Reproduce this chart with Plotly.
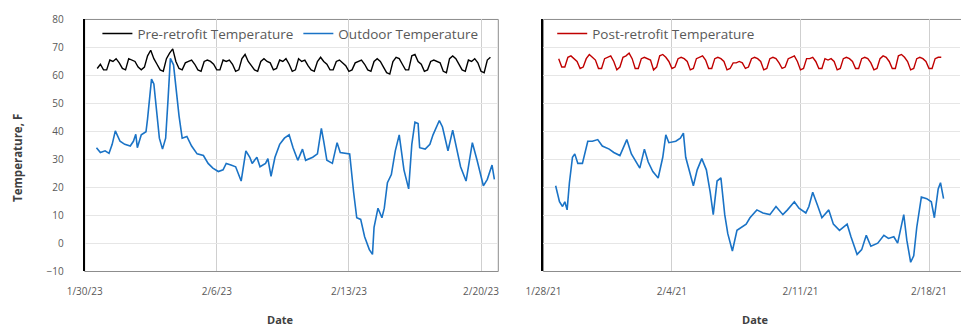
import plotly.graph_objects as go
import pandas as pd

# ---------------- DATA ----------------
# Pre-retrofit period (2023): indoor temperature, every 4 hours starting 1/30/23 16:00
pre_indoor_start = "2023-01-30 16:00"
pre_indoor = [
    62.5, 64,
    62, 62, 65.5, 65, 66, 64.5,
    62.5, 62, 66, 65.5, 65, 63,
    62, 63, 67, 69, 66, 64,
    62, 61.5, 66, 68, 69.5, 65,
    62.5, 62, 64.5, 65, 65.5, 64,
    62, 61.5, 65, 65.5, 65, 64,
    62, 62, 65.5, 65, 65.5, 64,
    61.5, 62, 66, 67.5, 65, 63.5,
    62, 61.5, 65, 66, 65, 64.5,
    62, 62.5, 65.5, 65, 66, 64,
    61.5, 62, 66, 65, 65.5, 63.5,
    62, 61.5, 65, 66.5, 65, 64,
    62, 62, 65, 65.5, 64.5, 63.5,
    61.5, 62, 64.5, 65, 65.5, 64,
    62, 61.5, 65, 66, 65, 63,
    61, 60.5, 65, 66.5, 66, 64,
    62, 62, 67, 67.5, 65, 64,
    61.5, 62, 65, 65.5, 65, 64.5,
    61.5, 61, 66, 67, 66, 64,
    62, 61.5, 65.5, 65, 66, 64.5,
    61.5, 61, 65.5, 66.5,
]

# Pre-retrofit outdoor temperature: hours since 1/30/23 00:00 and values
pre_out_hours = [
    15, 20, 26, 31, 35, 39, 45, 51, 58, 62, 65, 67, 72, 78, 80, 85, 88, 92, 95, 99,
    103, 106, 109, 113, 116, 120, 124, 130, 136, 143, 151, 157, 163, 170, 176, 180,
    186, 192, 199, 205, 210, 213, 219, 223, 230, 233, 237, 242, 248, 254, 260, 265,
    271, 277, 281, 290, 296, 301, 304, 308, 315, 321, 325, 337, 342, 346, 351, 356,
    362, 366, 368, 373, 378, 381, 385, 390, 395, 400, 406, 412, 416, 420, 424, 426,
    433, 439, 443, 447, 451, 455, 462, 468, 474, 478, 485, 493, 499, 507, 512, 518, 521,
]
pre_out = [
    34.2, 32.5, 33.1, 32.2, 35.4, 40.2, 36.5, 35.4, 34.8, 36.5, 39.0, 34.2, 38.8, 39.9, 44.5, 58.7, 57.0, 44.5, 37.6, 33.7,
    37.6, 51.3, 66.1, 63.8, 55.9, 45.6, 37.6, 38.2, 34.8, 32.0, 31.4, 28.6, 26.9, 25.7, 26.3, 28.6,
    28.0, 27.4, 22.3, 33.1, 30.8, 28.6, 30.8, 27.4, 28.6, 30.3, 24.0, 30.8, 35.4, 37.6, 38.8, 34.2,
    29.7, 33.7, 29.7, 30.8, 32.0, 41.1, 36.5, 29.7, 28.6, 36.0, 32.5, 32.0, 18.3, 9.2, 8.6, 2.4,
    -2.2, -3.9, 5.8, 12.6, 9.2, 12.6, 21.7, 24.6, 33.1, 38.8, 26.3, 19.5, 35.4, 43.3, 42.8, 34.2,
    33.7, 35.4, 38.8, 41.1, 43.9, 41.6, 33.1, 40.5, 33.1, 27.4, 22.3, 36.0, 29.7, 20.6, 22.9, 28.0, 22.9,
]

# Post-retrofit period (2021): indoor temperature, every 4 hours starting 1/28/21 20:00
post_indoor_start = "2021-01-28 20:00"
post_indoor = [
    66,
    63, 63, 66.5, 67, 66, 65,
    62.5, 63, 66, 67.5, 66.5, 65.5,
    62.5, 62.5, 66, 66.5, 67, 65,
    62, 63, 66.5, 67, 68, 66,
    62.5, 62.5, 66, 66.5, 66, 65.5,
    62, 63, 67, 67.5, 66.5, 65,
    62.5, 63, 66, 66.5, 66, 65,
    62, 62.5, 66, 66.5, 67, 65.5,
    62.5, 62.5, 66, 66.5, 66, 65,
    62, 62.5, 64.5, 64.5, 65, 64.5,
    62.5, 63, 66, 66.5, 66, 65,
    62, 62.5, 66, 66.5, 66, 64.5,
    62.5, 63, 66, 66.5, 67, 65,
    62, 62.5, 66, 66, 66.5, 65,
    62.5, 62.5, 66, 65.5, 66, 65,
    62, 62.5, 66, 66.5, 66, 65,
    62.5, 62.5, 66, 66.5, 66, 64.5,
    62, 62.5, 66, 67, 66.5, 65,
    62.5, 62.5, 67, 67.5, 66.5, 65,
    62, 62.5, 66, 66.5, 66, 65,
    62.5, 62.5, 66, 66.5, 66.5,
]

# Post-retrofit outdoor temperature: hours since 1/28/21 00:00 and values
post_out_hours = [
    16, 21, 25, 28, 31, 34, 38, 41, 45, 51, 58, 64, 71, 77, 86, 92, 100, 109, 115, 122,
    126, 132, 137, 143, 150, 156, 160, 164, 173, 179, 183, 186, 192, 196, 201, 207,
    213, 218, 222, 227, 232, 237, 241, 247, 253, 259, 265, 270, 279, 287, 296, 304,
    313, 319, 328, 334, 343, 347, 352, 358, 364, 373, 379, 387, 397, 402, 410, 416,
    422, 428, 437, 445, 451, 458, 463, 471, 475, 480, 484, 488, 494, 501, 507, 511,
    516, 519, 523,
]
post_out = [
    20.6, 14.9, 13.2, 14.9, 12.0, 21.7, 30.8, 32.0, 28.6, 28.6, 36.5, 36.5, 37.1, 34.8, 33.7, 32.5, 31.4, 37.1, 32.0, 28.6,
    26.9, 33.7, 29.1, 25.7, 23.4, 30.8, 38.8, 36.0, 36.5, 37.6, 39.4, 30.8, 25.2, 20.6, 26.3, 30.3,
    26.3, 18.3, 10.3, 22.3, 23.4, 10.3, 3.5, -2.7, 4.7, 5.8, 6.9, 9.2, 12.0, 10.9, 10.3, 13.2,
    10.3, 12.0, 14.9, 12.6, 10.9, 13.2, 18.3, 13.8, 9.2, 12.0, 6.9, 4.7, 6.9, 2.4, -3.9, -2.2,
    2.9, -1.0, 0.1, 2.9, 1.8, 2.4, 0.1, 10.3, 1.2, -6.7, -4.4, 5.8, 16.6, 16.0, 14.9, 9.2,
    19.5, 21.7, 16.0,
]

y_ticks = [-10, 0, 10, 20, 30, 40, 50, 60, 70, 80]

# ---------------- BUILD ----------------
pre_base = pd.Timestamp("2023-01-30")
post_base = pd.Timestamp("2021-01-28")
pre_in_x = pd.date_range(pre_indoor_start, periods=len(pre_indoor), freq="4h")
post_in_x = pd.date_range(post_indoor_start, periods=len(post_indoor), freq="4h")
pre_out_x = [pre_base + pd.Timedelta(hours=h) for h in pre_out_hours]
post_out_x = [post_base + pd.Timedelta(hours=h) for h in post_out_hours]

BLUE = "#1a73c6"
RED = "#c00000"
TXT = "#595959"
TITLE = "#404040"
FONT = "Open Sans"

fig = go.Figure()
fig.add_trace(go.Scatter(x=pre_in_x, y=pre_indoor, mode="lines", name="Pre-retrofit Temperature",
                         line=dict(color="#000000", width=1.4), xaxis="x", yaxis="y", legend="legend"))
fig.add_trace(go.Scatter(x=pre_out_x, y=pre_out, mode="lines", name="Outdoor Temperature",
                         line=dict(color=BLUE, width=1.6), xaxis="x", yaxis="y", legend="legend"))
fig.add_trace(go.Scatter(x=post_in_x, y=post_indoor, mode="lines", name="Post-retrofit Temperature",
                         line=dict(color=RED, width=1.4), xaxis="x2", yaxis="y2", legend="legend2"))
fig.add_trace(go.Scatter(x=post_out_x, y=post_out, mode="lines", name="Outdoor Temperature",
                         line=dict(color=BLUE, width=1.6), xaxis="x2", yaxis="y2", showlegend=False))

W, H = 961, 331
Lx0, Lx1 = 68 / W, 490 / W
Rx0, Rx1 = 536 / W, 1.0
yb, yt = (H - 276) / H, (H - 12) / H

xcommon = dict(type="date", tickformat="%-m/%-d/%y", dtick=7 * 86400000, showgrid=True,
               gridcolor="#cfcfcf", gridwidth=1, showline=False, ticks="outside", ticklen=11,
               tickcolor="rgba(0,0,0,0)", zeroline=False,
               tickfont=dict(family=FONT, size=10, color=TXT))
ycommon = dict(range=[-10, 80], tickvals=y_ticks, showgrid=True, gridcolor="#e6e6e6", gridwidth=1,
               showline=True, linecolor="#000000", linewidth=2, ticks="outside", ticklen=17,
               tickcolor="rgba(0,0,0,0)", zeroline=False,
               tickfont=dict(family=FONT, size=10, color=TXT))

fig.update_layout(
    width=W, height=H, margin=dict(l=0, r=0, t=0, b=0),
    paper_bgcolor="white", plot_bgcolor="white",
    font=dict(family=FONT, color=TXT),
    xaxis=dict(domain=[Lx0, Lx1], anchor="y", range=["2023-01-30", "2023-02-20 22:00"],
               tick0="2023-01-30", **xcommon),
    yaxis=dict(domain=[yb, yt], anchor="x", **ycommon),
    xaxis2=dict(domain=[Rx0, Rx1], anchor="y2", range=["2021-01-28", "2021-02-19 16:30"],
                tick0="2021-01-28", **xcommon),
    yaxis2=dict(domain=[yb, yt], anchor="x2", showticklabels=False, **ycommon),
    legend=dict(orientation="h", x=81 / W, y=(H - 27) / H, xanchor="left", yanchor="middle",
                bgcolor="rgba(0,0,0,0)", font=dict(family=FONT, size=13.5, color=TXT),
                itemwidth=30, tracegroupgap=0),
    legend2=dict(orientation="h", x=545 / W, y=(H - 27) / H, xanchor="left", yanchor="middle",
                 bgcolor="rgba(0,0,0,0)", font=dict(family=FONT, size=13.5, color=TXT),
                 itemwidth=30),
    shapes=[
        dict(type="rect", xref="paper", yref="paper", x0=Lx0, x1=Lx1, y0=yb, y1=yt,
             line=dict(color="#8c8c8c", width=1), layer="below"),
        dict(type="rect", xref="paper", yref="paper", x0=Rx0, x1=1.05, y0=yb, y1=yt,
             line=dict(color="#8c8c8c", width=1), layer="below"),
    ],
    annotations=[
        dict(text="<b>Temperature, F</b>", xref="paper", yref="paper", x=0.0, y=(H - 157) / H,
             textangle=-90, showarrow=False, font=dict(family=FONT, size=11.5, color=TITLE),
             xanchor="center", yanchor="middle"),
        dict(text="<b>Date</b>", xref="paper", yref="paper", x=268 / W, y=(H - 326) / H,
             showarrow=False, font=dict(family=FONT, size=11, color=TITLE),
             xanchor="center", yanchor="middle"),
        dict(text="<b>Date</b>", xref="paper", yref="paper", x=752 / W, y=(H - 326) / H,
             showarrow=False, font=dict(family=FONT, size=11, color=TITLE),
             xanchor="center", yanchor="middle"),
    ],
)

fig.write_html("out.html")
